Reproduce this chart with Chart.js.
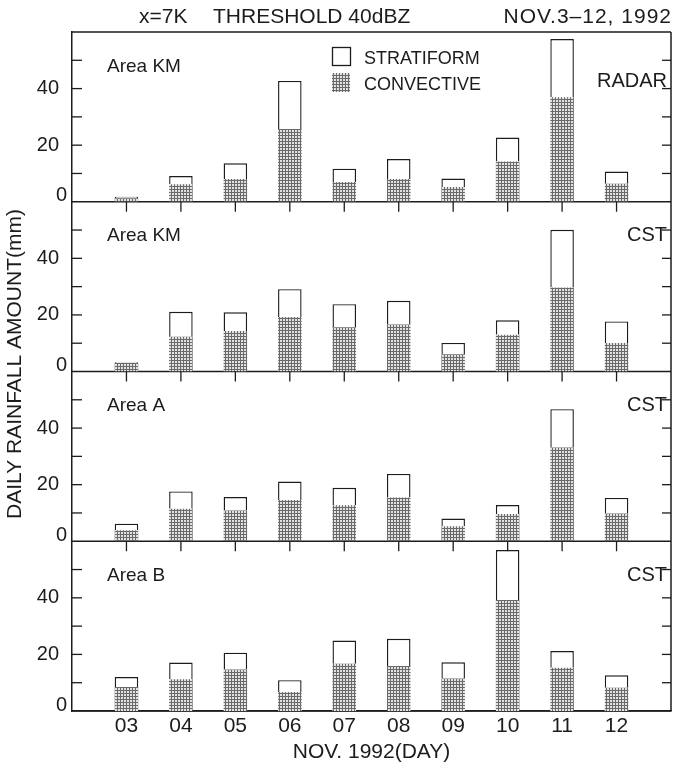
<!DOCTYPE html>
<html><head><meta charset="utf-8">
<script src="https://cdn.jsdelivr.net/npm/chart.js@4.4.1/dist/chart.umd.min.js"></script>
<style>html,body{margin:0;padding:0;background:#fff;}canvas{display:block;}</style>
</head><body>
<canvas id="c" width="675" height="767"></canvas>
<script>
// ---- data ----
const dayNums   = [3, 4, 5, 6, 7, 8, 9, 10, 11, 12];
const dayLabels = ['03','04','05','06','07','08','09','10','11','12'];
const yTickLabels = [20, 40];
const yZeroLabel = '0';

const kmRadarConv  = [1.2, 6.2, 8.0, 25.7, 7.0, 8.0, 5.2, 14.2, 36.9, 6.4];
const kmRadarStrat = [0.6, 2.9, 5.6, 17.0, 4.7, 7.1, 3.0, 8.5, 20.6, 4.3];

const kmCstConv  = [3.0, 12.3, 14.3, 19.3, 15.6, 16.6, 6.1, 13.0, 29.7, 10.1];
const kmCstStrat = [0.3, 8.8, 6.6, 9.8, 8.2, 8.4, 4.0, 5.1, 20.4, 7.6];

const aCstConv  = [3.9, 11.5, 10.9, 14.6, 12.7, 15.5, 5.3, 9.6, 33.1, 9.8];
const aCstStrat = [2.3, 6.1, 4.7, 6.5, 6.2, 8.3, 2.7, 3.2, 13.6, 5.5];

const bCstConv  = [8.5, 11.2, 14.7, 6.7, 16.7, 15.9, 11.5, 39.2, 15.3, 8.2];
const bCstStrat = [3.5, 5.9, 5.9, 4.2, 8.2, 9.6, 5.7, 17.7, 5.9, 4.4];

const panelNames   = ['Area KM', 'Area KM', 'Area A', 'Area B'];
const panelSources = ['RADAR', 'CST', 'CST', 'CST'];
const legendLabels = ['STRATIFORM', 'CONVECTIVE'];
const titleLeft  = 'x=7K';
const titleMid   = 'THRESHOLD 40dBZ';
const titleRight = 'NOV.3–12, 1992';
const xTitle = 'NOV. 1992(DAY)';
const yTitle = 'DAILY RAINFALL AMOUNT(mm)';

// ---- styling ----
const INK = '#1c1c1c';
const FONT = "'Liberation Sans', Arial, Helvetica, sans-serif";
const canvas = document.getElementById('c');
const mainCtx = canvas.getContext('2d');

const pc = document.createElement('canvas');
pc.width = 3; pc.height = 3;
const pctx = pc.getContext('2d');
pctx.fillStyle = '#e2e2e2'; pctx.fillRect(0, 0, 3, 3);
pctx.fillStyle = '#6a6a6a'; pctx.fillRect(0, 0, 3, 1); pctx.fillRect(0, 0, 1, 3);
const stipple = mainCtx.createPattern(pc, 'repeat');

const panels = [
  {id: 'y1', conv: kmRadarConv, strat: kmRadarStrat},
  {id: 'y2', conv: kmCstConv,   strat: kmCstStrat},
  {id: 'y3', conv: aCstConv,    strat: aCstStrat},
  {id: 'y4', conv: bCstConv,    strat: bCstStrat}
];

const datasets = [];
panels.forEach(p => {
  datasets.push({
    label: 'CONVECTIVE', yAxisID: p.id,
    data: dayNums.map((d, i) => ({x: d, y: p.conv[i]})),
    backgroundColor: stipple, borderWidth: 0,
    barPercentage: 0.9, categoryPercentage: 0.48
  });
  datasets.push({
    label: 'STRATIFORM', yAxisID: p.id,
    data: dayNums.map((d, i) => ({x: d, y: p.strat[i]})),
    backgroundColor: '#ffffff', borderColor: INK, borderWidth: 1.4, borderSkipped: 'start',
    barPercentage: 0.9, categoryPercentage: 0.48
  });
});

function yScale() {
  return {
    type: 'linear', position: 'left', stack: 'panels', stackWeight: 1,
    stacked: true, min: 0, max: 60,
    grid: {display: false},
    border: {display: true, color: INK, width: 1.5},
    ticks: {
      stepSize: 10, autoSkip: false, padding: 5, color: INK,
      font: {family: FONT, size: 20},
      callback: v => (yTickLabels.includes(v) ? String(v) : '')
    },
    afterFit: s => { s.width = 72; }
  };
}

function line(ctx, x1, y1, x2, y2) {
  ctx.beginPath(); ctx.moveTo(x1, y1); ctx.lineTo(x2, y2); ctx.stroke();
}

const framePlugin = {
  id: 'frame',
  beforeDatasetsDraw(chart) {
    const {ctx, chartArea: a} = chart;
    ctx.save();
    ctx.strokeStyle = INK; ctx.lineWidth = 1.5;
    const top = chart.scales.y1.getPixelForValue(60);
    line(ctx, a.left, top, a.right, top);
    panels.forEach(p => {
      const y0 = chart.scales[p.id].getPixelForValue(0);
      line(ctx, a.left, y0, a.right, y0);
    });
    line(ctx, a.right, a.top, a.right, a.bottom);
    ctx.restore();
  },
  afterDatasetsDraw(chart) {
    const {ctx, chartArea: a} = chart;
    ctx.save();
    ctx.strokeStyle = INK; ctx.lineWidth = 1.3;
    panels.forEach((p, i) => {
      const s = chart.scales[p.id];
      s.ticks.forEach(t => {
        if (t.value > 0 && t.value < 60) {
          const y = s.getPixelForValue(t.value);
          line(ctx, a.left, y, a.left + 10, y);
          line(ctx, a.right - 9, y, a.right, y);
        }
      });
      if (i < 3) {
        const y0 = s.getPixelForValue(0);
        dayNums.forEach(d => {
          const x = chart.scales.x.getPixelForValue(d);
          line(ctx, x, y0, x, y0 + 10);
        });
      }
    });
    ctx.restore();
  },
  afterDraw(chart) {
    const {ctx, chartArea: a} = chart;
    ctx.save();
    ctx.fillStyle = INK;
    ctx.textBaseline = 'alphabetic';
    // title
    ctx.font = `21px ${FONT}`;
    ctx.textAlign = 'left';
    ctx.fillText(titleLeft, 139, 23);
    ctx.fillText(titleMid, 213, 23);
    ctx.textAlign = 'right';
    try { ctx.letterSpacing = '1px'; } catch (e) {}
    ctx.fillText(titleRight, 672, 23);
    try { ctx.letterSpacing = '0px'; } catch (e) {}
    // panel labels and raised zero labels
    panels.forEach((p, i) => {
      const s = chart.scales[p.id];
      const top = s.getPixelForValue(60);
      const y0 = s.getPixelForValue(0);
      ctx.font = `20px ${FONT}`;
      ctx.textAlign = 'right';
      ctx.fillText(yZeroLabel, a.left - 5, y0 - 0.5);
      ctx.font = `19px ${FONT}`;
      ctx.textAlign = 'left';
      ctx.fillText(panelNames[i], a.left + 35, top + 39.5);
      ctx.font = `20px ${FONT}`;
      ctx.textAlign = 'right';
      ctx.fillText(panelSources[i], a.right - 4, top + (i === 0 ? 55 : 39.5));
    });
    // legend
    ctx.lineWidth = 1.3; ctx.strokeStyle = INK;
    ctx.fillStyle = '#fff';
    ctx.fillRect(332, 47, 18, 18);
    ctx.strokeRect(332.5, 47.5, 18, 18);
    ctx.fillStyle = stipple;
    ctx.fillRect(332, 73, 18, 19);
    ctx.fillStyle = INK;
    ctx.font = `18px ${FONT}`;
    ctx.textAlign = 'left';
    ctx.fillText(legendLabels[0], 364, 64);
    ctx.fillText(legendLabels[1], 364, 90);
    // y title
    ctx.translate(15, 364);
    ctx.rotate(-Math.PI / 2);
    ctx.textAlign = 'center';
    ctx.textBaseline = 'middle';
    ctx.font = `21px ${FONT}`;
    ctx.fillText(yTitle, 0, 0);
    ctx.restore();
  }
};

new Chart(canvas, {
  type: 'bar',
  data: {datasets},
  options: {
    responsive: false,
    animation: false,
    devicePixelRatio: 1,
    layout: {padding: {top: 32, right: 4, left: 0, bottom: 0}},
    plugins: {legend: {display: false}, tooltip: {enabled: false}, title: {display: false}},
    scales: {
      x: {
        type: 'linear', min: 2, max: 13, stacked: true, offset: false,
        grid: {display: false},
        border: {display: true, color: INK, width: 1.5},
        ticks: {
          stepSize: 1, autoSkip: false, maxRotation: 0, padding: -5, color: INK,
          font: {family: FONT, size: 21},
          callback: v => { const i = dayNums.indexOf(v); return i >= 0 ? dayLabels[i] : ''; }
        },
        title: {display: true, text: xTitle, color: INK, font: {family: FONT, size: 21}, padding: {top: 0, bottom: 2}},
        afterFit: s => { s.height = 56; }
      },
      // stacked axes: the first listed is placed at the bottom
      y4: yScale(),
      y3: yScale(),
      y2: yScale(),
      y1: yScale()
    }
  },
  plugins: [framePlugin]
});
</script>
</body></html>
